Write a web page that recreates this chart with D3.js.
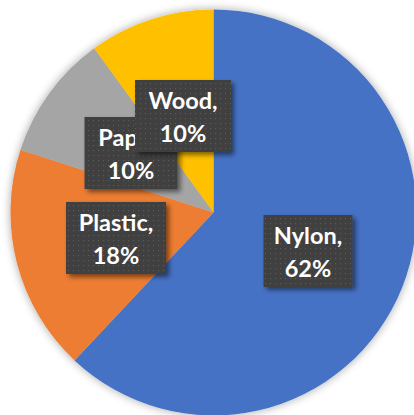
<!DOCTYPE html>
<html><head><meta charset="utf-8">
<script src="https://cdn.jsdelivr.net/npm/d3@7/dist/d3.min.js"></script>
<style>html,body{margin:0;padding:0;background:#fff;overflow:hidden}</style>
</head><body>
<svg id="c" width="414" height="415"></svg>
<script>
const categories = ["Nylon", "Plastic", "Paper", "Wood"];
const values = [62, 18, 10, 10];
const colors = ["#4472C4", "#ED7D31", "#A5A5A5", "#FFC000"];
const labelText = ["Nylon,", "Plastic,", "Paper,", "Wood,"];
const pctText = ["62%", "18%", "10%", "10%"];
// label box centres (px) as placed in the reference
const labelX = [308, 116, 131, 183];
const labelY = [251, 238, 153, 116];
const labelW = [89, 100, 93, 96];

const svg = d3.select("#c");
const cx = 213.5, cy = 212.5, R = 203;
const defs = svg.append("defs");
const f = defs.append("filter").attr("id","pieShadow").attr("x","-20%").attr("y","-20%").attr("width","140%").attr("height","140%");
f.append("feGaussianBlur").attr("in","SourceAlpha").attr("stdDeviation",5).attr("result","b");
f.append("feOffset").attr("in","b").attr("dx",0).attr("dy",0).attr("result","o");
f.append("feComponentTransfer").attr("in","o").attr("result","o2").append("feFuncA").attr("type","linear").attr("slope",0.35);
const m = f.append("feMerge"); m.append("feMergeNode").attr("in","o2"); m.append("feMergeNode").attr("in","SourceGraphic");

const f2 = defs.append("filter").attr("id","boxShadow").attr("x","-20%").attr("y","-20%").attr("width","150%").attr("height","150%");
f2.append("feGaussianBlur").attr("in","SourceAlpha").attr("stdDeviation",2.5).attr("result","b");
f2.append("feOffset").attr("in","b").attr("dx",3).attr("dy",3).attr("result","o");
f2.append("feComponentTransfer").attr("in","o").attr("result","o2").append("feFuncA").attr("type","linear").attr("slope",0.5);
const m2 = f2.append("feMerge"); m2.append("feMergeNode").attr("in","o2"); m2.append("feMergeNode").attr("in","SourceGraphic");

const pat = defs.append("pattern").attr("id","dots").attr("width",5).attr("height",5).attr("patternUnits","userSpaceOnUse");
pat.append("rect").attr("width",5).attr("height",5).attr("fill","#3f3f3f");
pat.append("rect").attr("x",2).attr("y",2).attr("width",1.2).attr("height",1.2).attr("fill","#5a5a5a");

const pie = d3.pie().sort(null).value(d => d);
const arcs = pie(values);
const arc = d3.arc().innerRadius(0).outerRadius(R);
const g = svg.append("g").attr("transform",`translate(${cx},${cy})`).attr("filter","url(#pieShadow)");
g.selectAll("path").data(arcs).join("path").attr("d",arc).attr("fill",(d,i)=>colors[i]);

const H = 72;
const lg = svg.append("g").selectAll("g").data(arcs).join("g")
  .attr("transform",(d,i)=>`translate(${labelX[i]},${labelY[i]})`);
lg.append("rect").attr("x",(d,i)=>-labelW[i]/2).attr("y",-H/2).attr("width",(d,i)=>labelW[i]).attr("height",H)
  .attr("fill","url(#dots)").attr("filter","url(#boxShadow)");
const t = lg.append("text").attr("text-anchor","middle").attr("fill","#fff")
  .style("font-family","Lato, 'Open Sans', sans-serif").style("font-weight","bold").style("font-size","23.5px");
t.append("tspan").attr("x",0).attr("y",-7).text((d,i)=>labelText[i]);
t.append("tspan").attr("x",0).attr("y",26).text((d,i)=>pctText[i]);
</script>
</body></html>
